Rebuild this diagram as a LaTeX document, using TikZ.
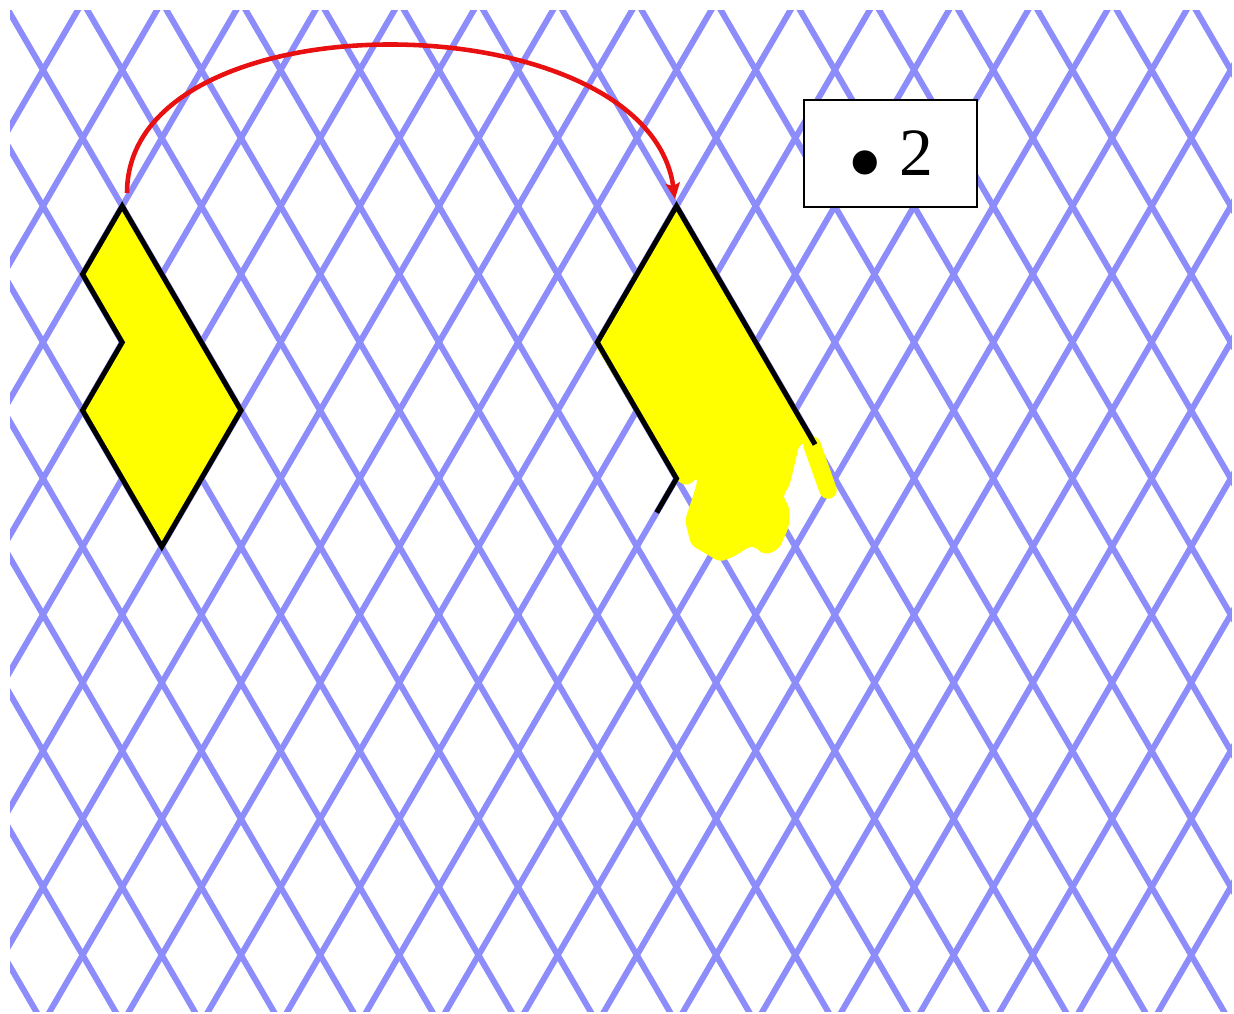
\documentclass[tikz,border=0pt]{standalone}
\usepackage{fontspec}
\setmainfont{Liberation Serif}
\usetikzlibrary{arrows.meta}
\definecolor{gridblue}{RGB}{140,140,250}
\definecolor{tileyellow}{RGB}{255,255,0}
\definecolor{turnred}{RGB}{232,16,16}
\tikzset{
  gridline/.style={gridblue, line width=3.4pt},
  tile/.style={fill=tileyellow, draw=black, line width=2.9pt, line join=miter},
  outline/.style={black, line width=2.9pt, line join=miter},
  scribble/.style={fill=tileyellow, rounded corners=3pt},
  turnarrow/.style={turnred, line width=2.6pt, -{Stealth[length=9pt,width=8pt,inset=1.5pt]}},
  labelbox/.style={draw, fill=white, line width=1.1pt, minimum width=3.46cm,
    minimum height=2.14cm, inner sep=0pt, font=\fontsize{38.5}{40}\selectfont}
}

\begin{document}
\begin{tikzpicture}[x=0.02cm, y=-0.02cm]
  \useasboundingbox (0,0) rectangle (1234,1014);
  % rhombic grid, units: half a column across, one row down
  \begin{scope}[shift={(43,70)}, x=0.792cm, y=-1.362cm]
    \clip (-0.83,-0.88) rectangle (30.03,13.83);
    \foreach \m in {-8,...,16}{
      \draw[gridline] (2*\m-2,-2) -- (2*\m+16,16);
    }
    \foreach \m in {0,...,23}{
      \draw[gridline] (2*\m+2,-2) -- (2*\m-16,16);
    }
  \end{scope}
  % shape before the turn
  \begin{scope}[shift={(43,70)}, x=0.792cm, y=-1.362cm]
    \draw[tile] (2,2) -- (1,3) -- (2,4) -- (1,5) -- (3,7) -- (5,5) -- cycle;
  \end{scope}
  % hand coloured shape after the turn
  \fill[scribble] (677,205) -- (812,440) -- (799,445) -- (795,463) -- (789,487)
    -- (782,497) -- (789,505) -- (789,527) -- (779,549) -- (765,555) -- (752,545)
    -- (735,556) -- (720,562) -- (691,545) -- (685,520) -- (695,490) -- (698,477)
    -- (688,486) -- (678,482) -- (595,345) -- cycle;
  \draw[tileyellow, line width=10pt, line cap=round] (812,445) -- (828,490);
  \begin{scope}[shift={(43,70)}, x=0.792cm, y=-1.362cm]
    \draw[outline] (19.5,5.5) -- (16,2) -- (14,4) -- (16,6) -- (15.5,6.5);
  \end{scope}
  % turn arrow
  \coordinate (arcstart) at (127,193);
  \coordinate (arcend) at (675,199);
  \draw[turnarrow] (arcstart) .. controls +(0,-200) and +(-28,-200) .. (arcend);
  \node[labelbox] (turnlabel) at (890.5,153.5)
    {\smash{\raisebox{-0.3em}{\scalebox{1.5}{•}}}~2\hspace{0.25em}};
\end{tikzpicture}
\end{document}
